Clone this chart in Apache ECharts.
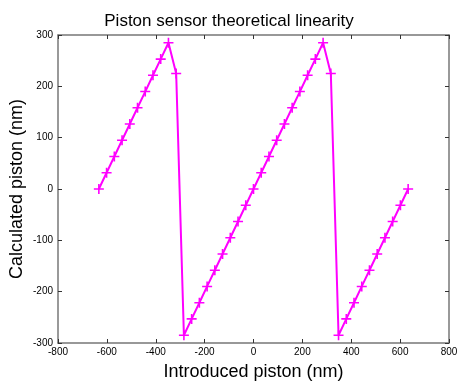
<!DOCTYPE html>
<html>
<head>
<meta charset="utf-8">
<script src="https://cdn.jsdelivr.net/npm/echarts@6/dist/echarts.min.js"></script>
<style>
  html, body { margin: 0; padding: 0; background: #fff; }
  #chart { width: 458px; height: 381px; }
</style>
</head>
<body>
<div id="chart"></div>
<script>
const introduced = [
  -632.8, -601.2, -569.5, -537.9, -506.2, -474.6, -443.0, -411.3, -379.7, -348.0,
  -316.4, -284.8, -253.1, -221.5, -189.8, -158.2, -126.6, -94.9, -63.3, -31.6,
  0, 31.6, 63.3, 94.9, 126.6, 158.2, 189.8, 221.5, 253.1, 284.8,
  316.4, 348.0, 379.7, 411.3, 443.0, 474.6, 506.2, 537.9, 569.5, 601.2, 632.8
];
const calculated = [
  0, 31.6, 63.3, 94.9, 126.6, 158.2, 189.8, 221.5, 253.1, 284.8,
  225, -284.8, -253.1, -221.5, -189.8, -158.2, -126.6, -94.9, -63.3, -31.6,
  0, 31.6, 63.3, 94.9, 126.6, 158.2, 189.8, 221.5, 253.1, 284.8,
  225, -284.8, -253.1, -221.5, -189.8, -158.2, -126.6, -94.9, -63.3, -31.6, 0
];

const chart = echarts.init(document.getElementById('chart'));

const lineStyle = { color: '#777', width: 1.5 };
const tickStyle = { inside: true, length: 4, lineStyle: { color: '#333' } };
const labelStyle = { color: '#000', fontSize: 10, fontFamily: 'Liberation Sans' };
const nameStyle = { color: '#000', fontSize: 18, fontFamily: 'Liberation Sans' };

const plus = 'path://M-1,-0.16H1V0.16H-1Z M-0.16,-1H0.16V1H-0.16Z';

chart.setOption({
  backgroundColor: '#fff',
  animation: false,
  title: {
    text: 'Piston sensor theoretical linearity',
    left: 'center',
    top: 8,
    textStyle: { color: '#000', fontSize: 17, fontWeight: 'normal', fontFamily: 'Liberation Sans' }
  },
  grid: { left: 58, right: 9, top: 35, bottom: 38, outerBoundsMode: 'none' },
  xAxis: [
    {
      type: 'value', min: -800, max: 800, interval: 200,
      name: 'Introduced piston (nm)', nameLocation: 'middle', nameGap: 20, nameTextStyle: nameStyle,
      axisLine: { onZero: false, lineStyle }, axisTick: tickStyle, axisLabel: Object.assign({ margin: 4 }, labelStyle),
      splitLine: { show: false }
    },
    {
      type: 'value', position: 'top', min: -800, max: 800, interval: 200,
      axisLine: { show: true, onZero: false, lineStyle }, axisTick: tickStyle, axisLabel: { show: false },
      splitLine: { show: false }
    }
  ],
  yAxis: [
    {
      type: 'value', min: -300, max: 300, interval: 100,
      name: 'Calculated piston (nm)', nameLocation: 'middle', nameGap: 32, nameMoveOverlap: false,
      nameTextStyle: nameStyle,
      axisLine: { show: true, onZero: false, lineStyle }, axisTick: tickStyle, axisLabel: Object.assign({ margin: 5 }, labelStyle),
      splitLine: { show: false }
    },
    {
      type: 'value', position: 'right', min: -300, max: 300, interval: 100,
      axisLine: { show: true, onZero: false, lineStyle }, axisTick: tickStyle, axisLabel: { show: false },
      splitLine: { show: false }
    }
  ],
  series: [
    {
      type: 'line',
      data: introduced.map((x, i) => [x, calculated[i]]),
      symbol: plus,
      symbolSize: 10,
      showAllSymbol: true,
      lineStyle: { color: '#ff00ff', width: 2 },
      itemStyle: { color: '#ff00ff' }
    }
  ]
});
</script>
</body>
</html>
